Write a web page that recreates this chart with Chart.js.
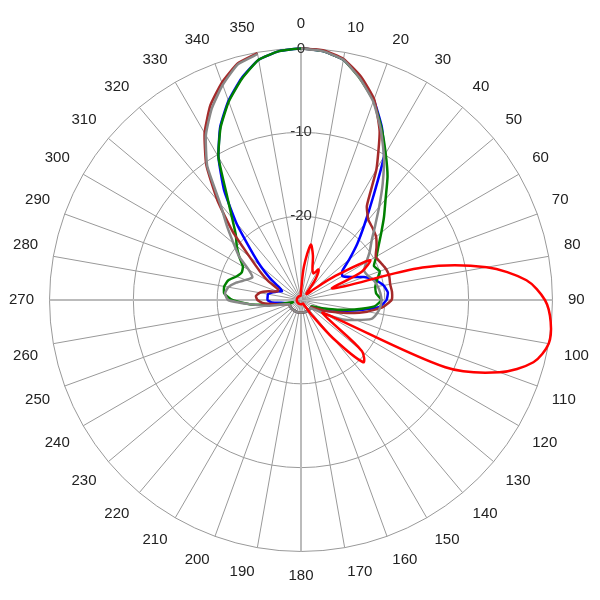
<!DOCTYPE html>
<html><head><meta charset="utf-8">
<script src="https://cdn.jsdelivr.net/npm/chart.js@4"></script>
<style>html,body{margin:0;padding:0;background:#fff}#w{width:600px;height:600px}</style>
</head><body><div id="w"><canvas id="c"></canvas></div>
<script>
const angles = Array.from({length:72},(_,i)=>String(i*5));
const tickValues = [-30,-20,-10,0];
// values in dB every 5 degrees, 0..355
const red = [-29,-26,-23.3,-24.5,-26,-26.5,-25.8,-27,-29,-29,-28,-25,-20.5,-22,-26,-15,-7.5,-3,-0.9,-0.1,0,-1.3,-4.8,-11,-27,-26,-20.5,-19.5,-24,-28,
 -29.5,-29.5,-29.5,-29.5,-29.5,-29.5,-29.5,-29.5,-29.5,-29.5,-29.5,-29.5,-29.5,-29.5,-29.5,-29.5,-29.5,-29.5,-29.5,-29.5,-29.5,-29.5,-29.5,-29.5,-29.5,-29.5,-29.5,-29.5,-29.5,-29.5,-29.5,-29.5,-29.5,-29.5,-29.5,-29.5,-29.5,-29.5,-29.5,-29.5,-29.5,-29.5];
const blue = [0,-0.2,-0.9,-2.6,-4.6,-7.2,-10.2,-15,-18.2,-20.5,-22.5,-24,-24.3,-23.5,-22,-20.8,-20,-19.6,-19.8,-20.6,-23,-25,-26,-27,-28,
 -28.5,-28.5,-28.5,-28.5,-28.5,-28.5,-28.5,-28.5,-28.5,-28.5,-28.5,-28.5,-28.5,-28.5,-28.5,-28.5,-28.5,-28.5,-28.5,-28.5,-28.5,-28.5,-28.5,-28.5,-28.5,-28.5,
 -28.5,-28,-26.5,-26,-26,-26,-26.5,-27,-27.5,-27,-25.5,-23.7,-21.5,-18,-14,-10.3,-7.2,-4.7,-2.6,-0.9,-0.2];
const green = [0,-0.2,-0.9,-2.7,-4.7,-7.3,-9.8,-12,-14.3,-16,-17.5,-18.7,-19.6,-20.4,-20,-20.6,-21,-21,-20.4,-21.2,-23.5,-25.5,-27,-28,-28.5,
 -28.5,-28.5,-28.5,-28.5,-28.5,-28.5,-28.5,-28.5,-28.5,-28.5,-28.5,-28.5,-28.5,-28.5,-28.5,-28.5,-28.5,-28.5,-28.5,-28.5,-28.5,-28.5,-28.5,-28.5,-28.5,-28.5,
 -29,-27,-24,-21.8,-20.8,-20.7,-21,-21.8,-22.2,-22,-21,-20,-19,-17.2,-14.5,-10.3,-7.3,-4.8,-2.7,-0.9,-0.2];
const gray = [0,-0.2,-0.9,-2.7,-4.8,-7.5,-10.2,-13,-15.5,-17.5,-19,-20,-21,-21.7,-21.5,-21,-20.7,-20.5,-20.4,-20.5,-20.8,-21.3,-23,-24.5,-26.5,-28,
 -28.5,-28.5,-28.5,-28.5,-28.5,-28.5,-28.5,-28.5,-28.5,-28.5,-28.5,-28.5,-28.5,-28.5,-28.5,-28.5,-28.5,-28.5,-28.5,-28.5,-28.5,-28.5,-28.5,-28.5,-28.5,
 -28,-26,-24,-21.3,-20.9,-21.2,-22,-23,-23.6,-22.8,-21,-19.5,-17.5,-15,-10.5,-7.3,-4.8,-2.7,-0.9,-0.2];
const brown = [0,-0.1,-0.8,-2.4,-4.5,-7.8,-12,-16.3,-17.5,-17.9,-18.3,-19,-19.7,-19.5,-19.2,-19.1,-19.2,-19.1,-19.2,-20.2,-22,-24,-25.8,-27,-28,
 -28.5,-28.5,-28.5,-28.5,-28.5,-28.5,-28.5,-28.5,-28.5,-28.5,-28.5,-28.5,-28.5,-28.5,-28.5,-28.5,-28.5,-28.5,-28.5,-28.5,-28.5,-28.5,-28.5,-28.5,-28.5,-28.5,
 -28,-27,-25.5,-24.8,-24.6,-25,-26,-27,-27,-25.5,-24,-22,-18.5,-14.5,-10.3,-7,-4.4,-2.4,-0.8,-0.1];

const mk=(d,c,o,t)=>({data:d,borderColor:c,borderWidth:2.5,fill:false,pointRadius:0,tension:t,order:o});
new Chart(document.getElementById('c'),{
 type:'radar',
 data:{labels:angles,datasets:[mk(red,'#ff0000',0,0.3),mk(blue,'#0000ff',4,0.15),mk(green,'#008000',3,0.15),mk(gray,'#888888',1,0.15),mk(brown,'#a52a2a',2,0.15)]},
 options:{responsive:true,maintainAspectRatio:false,animation:false,
  layout:{padding:8},
  plugins:{legend:{display:false},tooltip:{enabled:false}},
  scales:{r:{min:-30,max:0,startAngle:0,
   ticks:{stepSize:10,showLabelBackdrop:false,color:'#333',font:{family:'Liberation Sans',size:15},z:1,callback:(v)=>v===-30?'':String(v)},
   grid:{color:'#999',lineWidth:1},
   angleLines:{color:(ctx)=>ctx.index%2?'rgba(0,0,0,0)':(ctx.index%18===0?'#bbb':'#999'),lineWidth:(ctx)=>ctx.index%18===0?2:1},
   pointLabels:{color:'#222',font:{family:'Liberation Sans',size:15},padding:6,callback:(l,i)=>i%2?'':l}
  }}}
});
</script></body></html>
